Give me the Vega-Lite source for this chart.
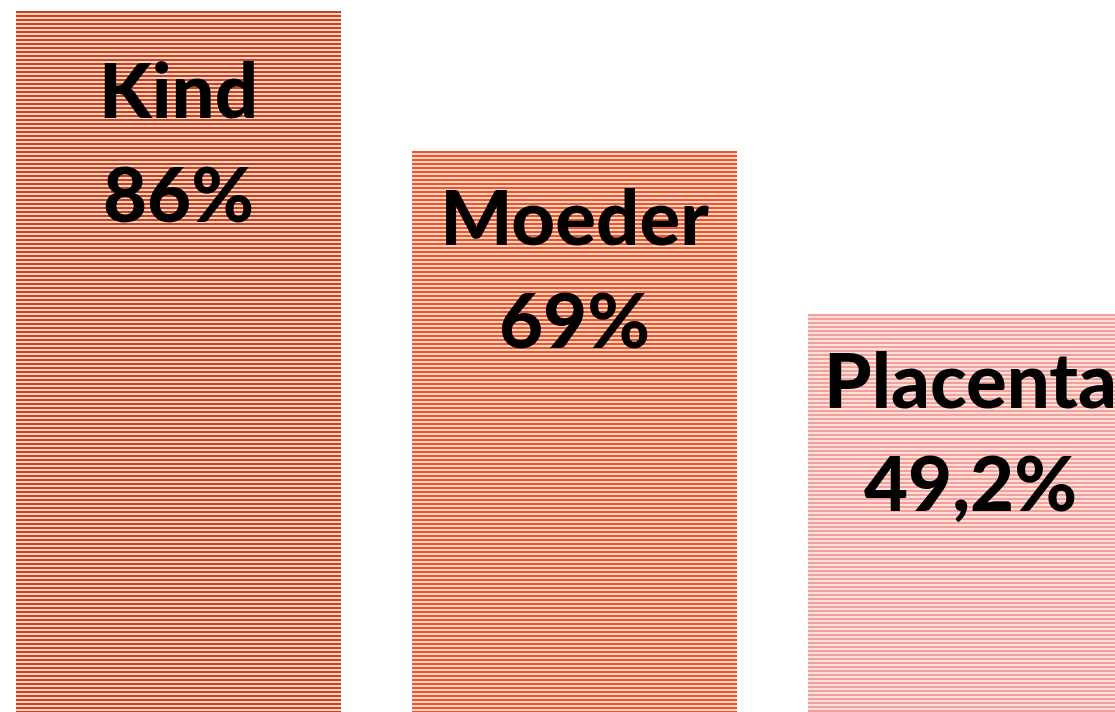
{
  "$schema": "https://vega.github.io/schema/vega-lite/v6.json",
  "width": 1115,
  "height": 712,
  "autosize": "none",
  "padding": 0,
  "background": "white",
  "config": {"view": {"stroke": null}},
  "data": {
    "values": [
      {"name": "Kind", "value": 86, "pct": "86%"},
      {"name": "Moeder", "value": 69, "pct": "69%"},
      {"name": "Placenta", "value": 49.2, "pct": "49,2%"}
    ]
  },
  "encoding": {
    "x": {
      "field": "name",
      "type": "nominal",
      "sort": null,
      "axis": null,
      "scale": {"range": [16, 1133], "paddingInner": 0.1793, "paddingOuter": 0}
    },
    "y": {
      "field": "value",
      "type": "quantitative",
      "axis": null,
      "scale": {"domain": [0.87857, 87.3357], "zero": false, "nice": false}
    }
  },
  "layer": [
    {
      "mark": {"type": "bar", "clip": true},
      "encoding": {
        "y2": {"datum": 0},
        "fill": {
          "field": "name",
          "type": "nominal",
          "legend": null,
          "scale": {"domain": ["Kind", "Moeder", "Placenta"], "range": ["#f9d3c4", "#fbd5c5", "#fde0dc"]}
        }
      }
    },
    {
      "mark": {"type": "rule", "clip": true, "strokeWidth": 325, "strokeDash": [2, 2], "strokeCap": "butt"},
      "encoding": {
        "y2": {"datum": 0},
        "stroke": {
          "field": "name",
          "type": "nominal",
          "legend": null,
          "scale": {"domain": ["Kind", "Moeder", "Placenta"], "range": ["#c8411c", "#ef5327", "#f3a09b"]}
        }
      }
    },
    {
      "transform": [{"filter": "datum.name === 'Kind'"}],
      "mark": {"type": "text", "font": "Lato", "fontWeight": 900, "fontSize": 76, "color": "black", "align": "center", "baseline": "alphabetic", "dy": 107},
      "encoding": {"text": {"field": "name"}}
    },
    {
      "transform": [{"filter": "datum.name === 'Kind'"}],
      "mark": {"type": "text", "font": "Lato", "fontWeight": 900, "fontSize": 76, "color": "black", "align": "center", "baseline": "alphabetic", "dy": 211},
      "encoding": {"text": {"field": "pct"}}
    },
    {
      "transform": [{"filter": "datum.name !== 'Kind'"}],
      "mark": {"type": "text", "font": "Lato", "fontWeight": 900, "fontSize": 76, "color": "black", "align": "center", "baseline": "alphabetic", "dy": 94},
      "encoding": {"text": {"field": "name"}}
    },
    {
      "transform": [{"filter": "datum.name !== 'Kind'"}],
      "mark": {"type": "text", "font": "Lato", "fontWeight": 900, "fontSize": 76, "color": "black", "align": "center", "baseline": "alphabetic", "dy": 197},
      "encoding": {"text": {"field": "pct"}}
    }
  ]
}
